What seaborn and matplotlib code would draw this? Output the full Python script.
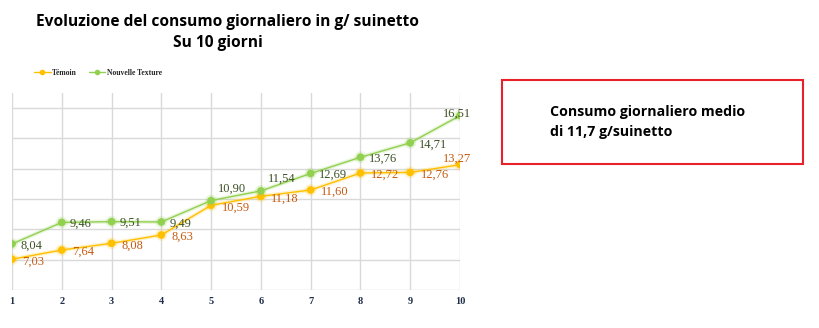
import matplotlib
matplotlib.use("Agg")
import matplotlib.pyplot as plt
import matplotlib.patheffects as pe
from matplotlib.patches import Rectangle
from matplotlib.lines import Line2D
import seaborn as sns
import pandas as pd

# ---- data ----
giorni = [1, 2, 3, 4, 5, 6, 7, 8, 9, 10]
temoin = [7.03, 7.64, 8.08, 8.63, 10.59, 11.18, 11.60, 12.72, 12.76, 13.27]
nouvelle = [8.04, 9.46, 9.51, 9.49, 10.90, 11.54, 12.69, 13.76, 14.71, 16.51]
serie_names = ["Témoin", "Nouvelle Texture"]
title_l1 = "Evoluzione del consumo giornaliero in g/ suinetto"
title_l2 = "Su 10 giorni"
box_text = "Consumo giornaliero medio\ndi 11,7 g/suinetto"

sns.set_theme(style="white")
plt.rcParams["font.family"] = ["Open Sans", "DejaVu Sans"]

df = pd.DataFrame({
    "giorno": giorni * 2,
    "valore": temoin + nouvelle,
    "serie": [serie_names[0]] * len(giorni) + [serie_names[1]] * len(giorni),
})

col_t = "#FFC000"
col_n = "#92D050"
lab_t = "#C55A11"
lab_n = "#3B5126"

fig = plt.figure(figsize=(8.2, 3.28), dpi=100)
ax = fig.add_axes([12 / 820, 38 / 328, 448 / 820, 197 / 328])

sns.lineplot(data=df, x="giorno", y="valore", hue="serie",
             palette={serie_names[0]: col_t, serie_names[1]: col_n},
             marker="o", markersize=5.5, markeredgewidth=0, linewidth=1.0,
             legend=False, ax=ax)
for ln, c in zip(ax.lines, [col_t, col_n]):
    ln.set_path_effects([pe.Stroke(linewidth=3, foreground=c, alpha=0.2), pe.Normal()])

ax.set_xlim(1, 10)
ax.set_ylim(5, 18)
ax.set_xticks(giorni)
ax.set_xticklabels([str(g) for g in giorni], family="Liberation Serif",
                   fontweight="bold", fontsize=7.5, color="#1F2E4A")
ax.set_yticks([5, 7, 9, 11, 13, 15, 17])
ax.set_yticklabels([])
ax.tick_params(axis="both", length=0, pad=5)
ax.grid(True, color="#D9D9D9", linewidth=1.0)
for s in ax.spines.values():
    s.set_visible(False)
ax.set_xlabel("")
ax.set_ylabel("")

def fmt(v):
    return f"{v:.2f}".replace(".", ",")

for i, (g, v) in enumerate(zip(giorni, temoin)):
    off = (7.5, -1.5) if i < 9 else (-2, 4)
    ha = "left" if i < 9 else "center"
    ax.annotate(fmt(v), (g, v), xytext=off, textcoords="offset points",
                ha=ha, va="center", family="Liberation Serif", fontsize=9,
                color=lab_t, annotation_clip=False)
for i, (g, v) in enumerate(zip(giorni, nouvelle)):
    if i in (4, 5):
        off, ha = (5, 8.5), "left"
    elif i == 9:
        off, ha = (-2, 1.5), "center"
    else:
        off, ha = (6, -1), "left"
    ax.annotate(fmt(v), (g, v), xytext=off, textcoords="offset points",
                ha=ha, va="center", family="Liberation Serif", fontsize=9,
                color=lab_n, annotation_clip=False)

# titles
fig.text(227 / 820, 1 - 22 / 328, title_l1, ha="center", va="center",
         fontsize=11.2, fontweight="bold", color="black")
fig.text(218 / 820, 1 - 43 / 328, title_l2, ha="center", va="center",
         fontsize=11.2, fontweight="bold", color="black")

# legend
handles = [Line2D([], [], color=col_t, marker="o", markersize=3, lw=1),
           Line2D([], [], color=col_n, marker="o", markersize=3, lw=1)]
leg = fig.legend(handles, serie_names, loc="center left",
                 bbox_to_anchor=(27 / 820, 1 - 73 / 328), ncol=2, frameon=False,
                 prop={"family": "Liberation Serif", "weight": "bold", "size": 5.5},
                 handlelength=2.2, handletextpad=0.2, columnspacing=1.5)

# red box
fig.patches.append(Rectangle((502 / 820, 1 - 164 / 328), 301 / 820, 84 / 328,
                             transform=fig.transFigure, fill=False,
                             edgecolor="#E8202A", linewidth=1.5))
fig.text(550 / 820, 1 - 122 / 328, box_text, ha="left", va="center",
         fontsize=10.2, fontweight="bold", color="black", linespacing=1.55)

fig.savefig("out.png", dpi=100, facecolor="white")
